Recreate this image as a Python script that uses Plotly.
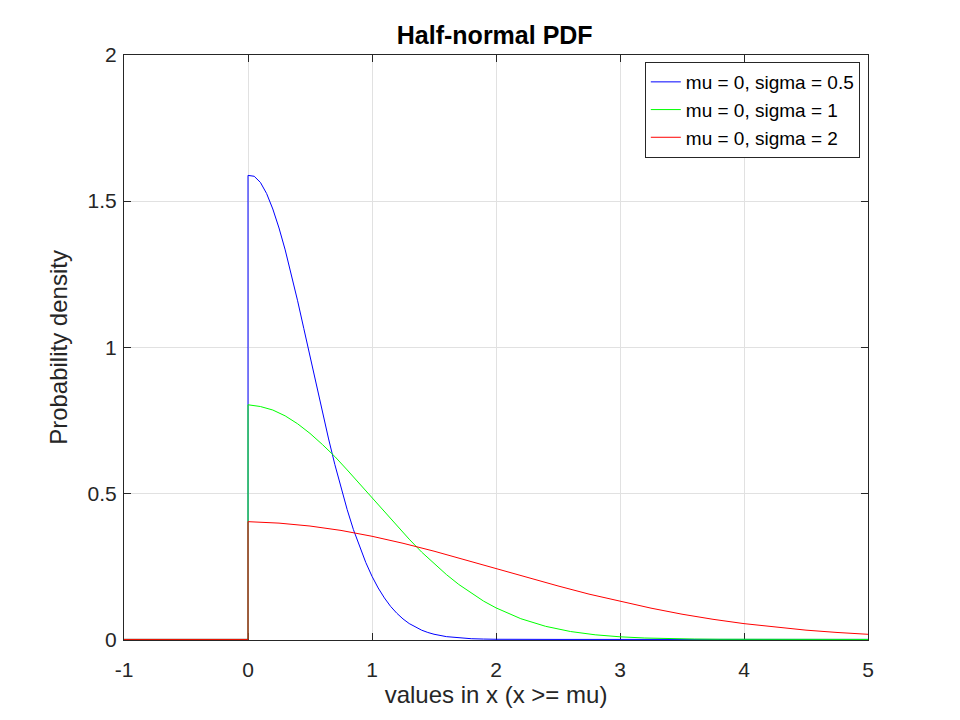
import plotly.graph_objects as go

# values: half-normal densities, mu = 0
X_BLUE = [-1, 0, 0, 0.05, 0.1, 0.15, 0.2, 0.25, 0.3, 0.35, 0.4, 0.45, 0.5, 0.55,
          0.6, 0.65, 0.7, 0.75, 0.8, 0.85, 0.9, 0.95, 1.0, 1.05, 1.1, 1.15, 1.2,
          1.25, 1.3, 1.35, 1.4, 1.45, 1.5, 1.6, 1.7, 1.8, 1.9, 2.0, 2.5, 3.0,
          4.0, 5.0]
Y_BLUE = [0, 0, 1.588, 1.585, 1.564, 1.526, 1.473, 1.408, 1.333, 1.249, 1.159,
          1.064, 0.968, 0.872, 0.777, 0.686, 0.599, 0.518, 0.444, 0.376, 0.316,
          0.263, 0.216, 0.176, 0.142, 0.113, 0.0896, 0.0701, 0.0543, 0.0417,
          0.0317, 0.0238, 0.0177, 0.0095, 0.0049, 0.0024, 0.0012, 0.0005, 0, 0,
          0, 0]

X_GREEN = [-1, 0, 0, 0.1, 0.2, 0.3, 0.4, 0.5, 0.6, 0.7, 0.8, 0.9, 1.0, 1.1, 1.2,
           1.3, 1.4, 1.5, 1.6, 1.7, 1.8, 1.9, 2.0, 2.2, 2.4, 2.6, 2.8, 3.0, 3.2,
           3.4, 3.6, 3.8, 4.0, 4.5, 5.0]
Y_GREEN = [0, 0, 0.803, 0.797, 0.785, 0.765, 0.738, 0.705, 0.667, 0.626, 0.580,
           0.533, 0.485, 0.437, 0.389, 0.343, 0.299, 0.259, 0.222, 0.188, 0.158,
           0.131, 0.108, 0.0709, 0.0448, 0.0271, 0.0158, 0.0089, 0.0048, 0.0025,
           0.0012, 0.0006, 0.0003, 0.0001, 0]

X_RED = [-1, 0, 0, 0.25, 0.5, 0.75, 1.0, 1.25, 1.5, 1.75, 2.0, 2.25, 2.5, 2.75,
         3.0, 3.25, 3.5, 3.75, 4.0, 4.25, 4.5, 4.75, 5.0]
Y_RED = [0, 0, 0.403, 0.398, 0.388, 0.373, 0.353, 0.329, 0.302, 0.272, 0.242,
         0.212, 0.183, 0.155, 0.130, 0.107, 0.0863, 0.0688, 0.054, 0.0417,
         0.0317, 0.0238, 0.0175]

SERIES = [
    ('mu = 0, sigma = 0.5', X_BLUE, Y_BLUE, '#0000ff'),
    ('mu = 0, sigma = 1', X_GREEN, Y_GREEN, '#00ff00'),
    ('mu = 0, sigma = 2', X_RED, Y_RED, '#ff0000'),
]

X_TICKS = [-1, 0, 1, 2, 3, 4, 5]
X_TICK_TEXT = ['-1', '0', '1', '2', '3', '4', '5']
Y_TICKS = [0, 0.5, 1, 1.5, 2]
Y_TICK_TEXT = ['0', '0.5', '1', '1.5', '2']

TEXT = '#262626'
FONT = 'Liberation Sans, Arial, sans-serif'

fig = go.Figure()
for name, xs, ys, color in SERIES:
    fig.add_trace(go.Scatter(x=xs, y=ys, name=name, mode='lines',
                             line=dict(color=color, width=1)))

axis_style = dict(showline=True, linecolor=TEXT, linewidth=1, mirror='ticks',
                  ticks='inside', ticklen=7, tickcolor=TEXT,
                  showgrid=True, gridcolor='#e1e1e1', zeroline=False,
                  layer='below traces',
                  tickfont=dict(size=21, color=TEXT, family=FONT))

# the page puts ~8px of body margin around the plot, so margins are shifted
fig.update_layout(
    width=960, height=720,
    paper_bgcolor='white', plot_bgcolor='white',
    margin=dict(l=116, r=100, t=47, b=88),
    title=dict(text='<b>Half-normal PDF</b>', x=0.507, xanchor='center',
               y=0.9625, yanchor='middle',
               font=dict(size=25, color='black', family=FONT)),
    font=dict(family=FONT, color=TEXT),
    showlegend=True,
    legend=dict(x=0.989, y=0.988, xanchor='right', yanchor='top',
                bgcolor='white', bordercolor=TEXT, borderwidth=1,
                itemwidth=30, tracegroupgap=0,
                font=dict(size=19, color='black', family=FONT)),
)
fig.update_xaxes(range=[-1, 5], tickvals=X_TICKS, ticktext=X_TICK_TEXT,
                 ticklabelstandoff=11, **axis_style,
                 title=dict(text='values in x (x >= mu)', standoff=4,
                            font=dict(size=24, color=TEXT, family=FONT)))
# tiny pad below 0 so the zero-level lines are not clipped by the axis
fig.update_yaxes(range=[-0.002, 2], tickvals=Y_TICKS, ticktext=Y_TICK_TEXT,
                 ticklabelstandoff=2, **axis_style,
                 title=dict(text='Probability density', standoff=13,
                            font=dict(size=24, color=TEXT, family=FONT)))

fig.write_html("out.html")
